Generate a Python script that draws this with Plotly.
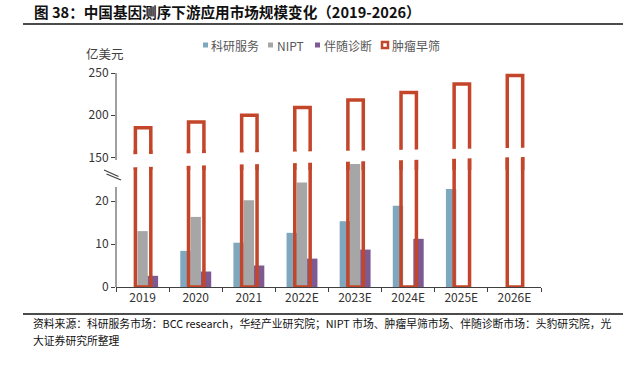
import plotly.graph_objects as go

# ---------------- data ----------------
categories = ["2019", "2020", "2021", "2022E", "2023E", "2024E", "2025E", "2026E"]
research_services = [None, 8.4, 10.3, 12.6, 15.3, 18.9, 22.8, None]     # 科研服务
nipt = [13.0, 16.3, 20.2, 24.3, 28.6, None, None, None]                 # NIPT
companion_dx = [2.6, 3.6, 5.0, 6.6, 8.7, 11.2, None, None]              # 伴随诊断
tumor_screening = [185, 192, 200, 209, 218, 227, 237, 247]              # 肿瘤早筛

lower_ticks = [0, 10, 20]
upper_ticks = [150, 200, 250]

# ---------------- layout geometry (pixels) ----------------
W, H = 640, 367
L, R, T, B = 116, 99, 73, 80
PW, PH = W - L - R, H - T - B
Y0 = T + PH  # pixel row of the x axis


def xp(px):
    return (px - L) / PW


def yp(py):
    return (Y0 - py) / PH


C_BLUE = "#7FA7BD"
C_GREY = "#A6A6A6"
C_PURPLE = "#7D5A92"
C_ORANGE = "#C4462A"
AX = "#404040"
FONT = "Noto Sans CJK SC"

# lower panel: 0 at y=287, 4.3 px per unit, top at y=150
low_top_px = 150
low_range = [0, (Y0 - low_top_px) / 4.3]
# upper panel: 250 at y=73, 0.843 px per unit, bottom at y=170
up_bot_px = 170
up_range = [250 - (up_bot_px - T) / 0.843, 250]

fig = go.Figure()

small = [
    ("科研服务", research_services, C_BLUE, -0.29),
    ("NIPT", nipt, C_GREY, -0.097),
    ("伴随诊断", companion_dx, C_PURPLE, 0.097),
]
for name, vals, col, off in small:
    fig.add_trace(go.Bar(
        x=categories, y=vals, name=name, yaxis="y",
        marker=dict(color=col, line=dict(width=0)),
        width=0.195, offset=off, showlegend=False,
    ))

for ax in ("y", "y2"):
    fig.add_trace(go.Bar(
        x=categories, y=tumor_screening, name="肿瘤早筛", yaxis=ax,
        marker=dict(color="rgba(0,0,0,0)", line=dict(color=C_ORANGE, width=3.5)),
        width=0.29, offset=-0.135, showlegend=False,
    ))

shapes = []
# white break band across the bars
x_a, x_b = xp(L + 1.5), 1.0
shapes.append(dict(
    type="path", xref="paper", yref="paper", layer="above",
    path=(f"M {x_a},{yp(154.5)} L {x_b},{yp(147.5)} "
          f"L {x_b},{yp(156.5)} L {x_a},{yp(167.8)} Z"),
    fillcolor="white", line=dict(width=0),
))
# broken y axis line segments
shapes.append(dict(type="line", xref="paper", yref="paper", layer="above",
                   x0=0, x1=0, y0=yp(160), y1=yp(T), line=dict(color=AX, width=1)))
shapes.append(dict(type="line", xref="paper", yref="paper", layer="above",
                   x0=0, x1=0, y0=yp(Y0), y1=yp(187), line=dict(color=AX, width=1)))
# break mark
for (xa, ya, xb, yb) in [(104, 170, 118.5, 176.5), (106.5, 174, 121, 180)]:
    shapes.append(dict(type="line", xref="paper", yref="paper", layer="above",
                       x0=xp(xa), y0=yp(ya), x1=xp(xb), y1=yp(yb),
                       line=dict(color=AX, width=1.2)))
# title rule and footer rule
shapes.append(dict(type="line", xref="paper", yref="paper",
                   x0=xp(23), x1=xp(623), y0=yp(24), y1=yp(24),
                   line=dict(color="#111111", width=1.5)))
shapes.append(dict(type="line", xref="paper", yref="paper",
                   x0=xp(23), x1=xp(623), y0=yp(314), y1=yp(314),
                   line=dict(color="#111111", width=1.3)))

# custom legend
legend_items = [
    ("科研服务", C_BLUE, 203, 209),
    ("NIPT", C_GREY, 268, 275),
    ("伴随诊断", C_PURPLE, 315, 322),
]
annotations = []
ly = 45
for name, col, mx, tx in legend_items:
    shapes.append(dict(type="rect", xref="paper", yref="paper",
                       x0=xp(mx), x1=xp(mx + 5), y0=yp(ly + 2.5), y1=yp(ly - 2.5),
                       fillcolor=col, line=dict(width=0)))
    annotations.append(dict(text=name, x=xp(tx), y=yp(ly), xref="paper", yref="paper",
                            xanchor="left", yanchor="middle", showarrow=False,
                            font=dict(family=FONT, size=12, color="#595959")))
shapes.append(dict(type="rect", xref="paper", yref="paper",
                   x0=xp(382), x1=xp(388), y0=yp(ly + 3), y1=yp(ly - 3),
                   fillcolor="white", line=dict(color=C_ORANGE, width=2.5)))
annotations.append(dict(text="肿瘤早筛", x=xp(390), y=yp(ly), xref="paper", yref="paper",
                        xanchor="left", yanchor="middle", showarrow=False,
                        font=dict(family=FONT, size=12, color="#595959")))

# title, unit, footer
annotations.append(dict(text="<b>图&nbsp;38：中国基因测序下游应用市场规模变化（2019-2026）</b>",
                        x=xp(32), y=yp(12), xref="paper", yref="paper",
                        xanchor="left", yanchor="middle", showarrow=False,
                        font=dict(family=FONT, size=14.6, color="#111111")))
annotations.append(dict(text="亿美元", x=xp(84), y=yp(53), xref="paper", yref="paper",
                        xanchor="left", yanchor="middle", showarrow=False,
                        font=dict(family=FONT, size=12.5, color="#404040")))
annotations.append(dict(text="资料来源：科研服务市场：BCC research，华经产业研究院；NIPT 市场、肿瘤早筛市场、伴随诊断市场：头豹研究院，光",
                        x=xp(31), y=yp(323), xref="paper", yref="paper",
                        xanchor="left", yanchor="middle", showarrow=False,
                        font=dict(family=FONT, size=10.8, color="#111111")))
annotations.append(dict(text="大证券研究所整理",
                        x=xp(31), y=yp(340), xref="paper", yref="paper",
                        xanchor="left", yanchor="middle", showarrow=False,
                        font=dict(family=FONT, size=10.8, color="#111111")))

tickfont = dict(family=FONT, size=12, color="#333333")
fig.update_layout(
    width=W, height=H,
    margin=dict(l=L, r=R, t=T, b=B, pad=0),
    paper_bgcolor="white", plot_bgcolor="rgba(0,0,0,0)",
    barmode="overlay", showlegend=False,
    xaxis=dict(type="category", categoryorder="array", categoryarray=categories,
               showline=True, linecolor=AX, linewidth=1, showgrid=False,
               ticks="outside", ticklen=4, tickcolor=AX, tickson="boundaries",
               tickfont=tickfont, zeroline=False, anchor="y", fixedrange=True),
    yaxis=dict(domain=[0, yp(low_top_px)], range=low_range, tickvals=lower_ticks,
               showline=False, showgrid=False, zeroline=False,
               ticks="outside", ticklen=4, tickcolor=AX, tickfont=tickfont),
    yaxis2=dict(domain=[yp(up_bot_px), 1], range=up_range, tickvals=upper_ticks,
                showline=False, showgrid=False, zeroline=False, anchor="x",
                ticks="outside", ticklen=4, tickcolor=AX, tickfont=tickfont),
    shapes=shapes, annotations=annotations,
)

fig.write_html(
    "out.html",
    config={"displayModeBar": False},
    post_script="document.body.style.margin='0';document.body.style.overflow='hidden';",
)
